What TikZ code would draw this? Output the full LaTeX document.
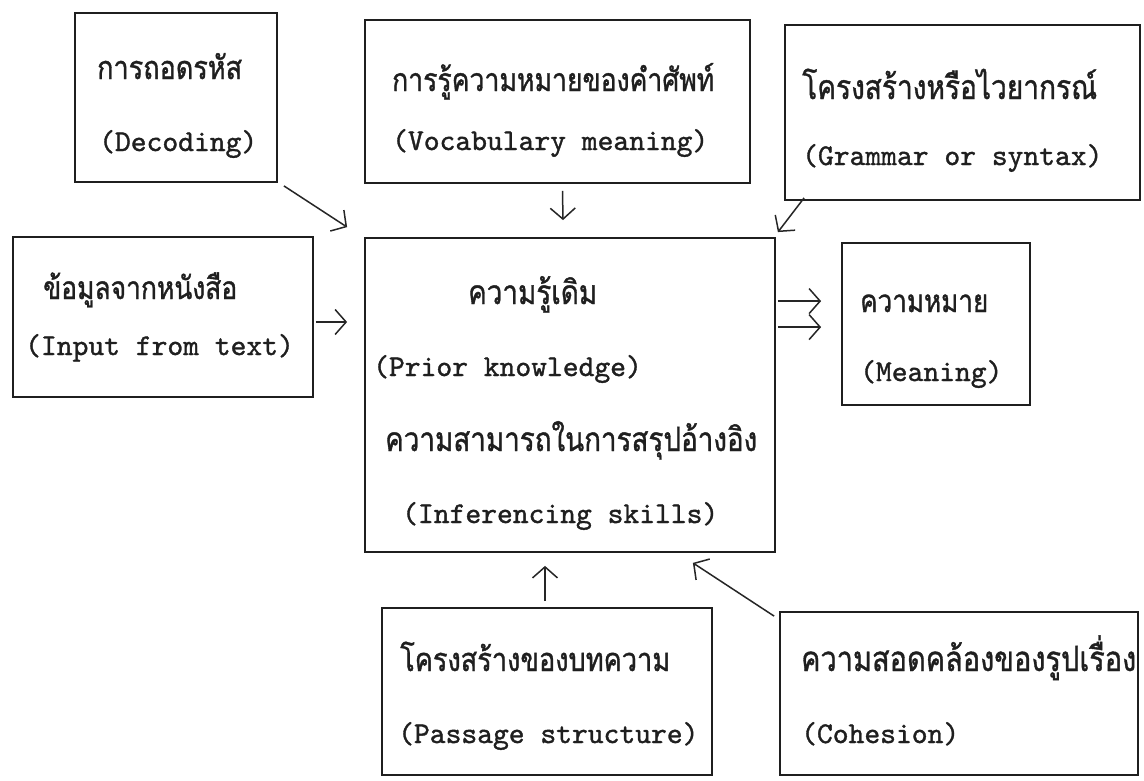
\documentclass[tikz,border=0pt]{standalone}
\usepackage{fontspec}
\newfontfamily\engfont[Extension=.otf,FakeBold=1.2]{lmmono10-regular}
\newfontfamily\thaifont[Script=Thai,FakeBold=1.2]{Loma}
\usetikzlibrary{arrows.meta,calc}
\newcommand{\eng}[1]{{\fontsize{30.1}{34}\selectfont\engfont #1}}
\newcommand{\thx}[2]{\resizebox{#1pt}{!}{\scalebox{1}[1.2]{\fontsize{24}{28}\selectfont\thaifont #2}}}
\tikzset{
  box/.style={draw=black!88, line width=1.8pt, inner sep=0pt},
  tlbl/.style={anchor=base west, inner sep=0pt, text=black!88},
  arr/.style={draw=black!85, line width=1.5pt, -{Straight Barb[length=11pt,width=25pt]}},
}
\begin{document}
\begin{tikzpicture}[x=1pt,y=-1pt]
\useasboundingbox[fill=white] (0,0) rectangle (1144,780);
% boxes
\node[box, minimum width=202pt, minimum height=169pt] (dec) at (176,97.5) {};
\node[box, minimum width=385pt, minimum height=163pt] (voc) at (557.5,101.5) {};
\node[box, minimum width=355pt, minimum height=175pt] (gra) at (962.5,112.5) {};
\node[box, minimum width=300pt, minimum height=160pt] (inp) at (163,317) {};
\node[box, minimum width=410pt, minimum height=314pt] (cen) at (570,395) {};
\node[box, minimum width=188pt, minimum height=162pt] (mea) at (936,324) {};
\node[box, minimum width=330pt, minimum height=167pt] (pas) at (547,691.5) {};
\node[box, minimum width=358pt, minimum height=163pt] (coh) at (959,693.5) {};
% texts
\node[tlbl] (decT) at (97,79) {\thx{145}{การถอดรหัส}};
\node[tlbl] (decE) at (99,151) {\eng{(Decoding)}};
\node[tlbl] (vocT) at (392,91) {\thx{322}{การรู้ความหมายของคำศัพท์}};
\node[tlbl] (vocE) at (392,150) {\eng{(Vocabulary meaning)}};
\node[tlbl] (graT) at (802,99) {\thx{295}{โครงสร้างหรือไวยากรณ์}};
\node[tlbl] (graE) at (802,165) {\eng{(Grammar or syntax)}};
\node[tlbl] (inpT) at (43,299) {\thx{194}{ข้อมูลจากหนังสือ}};
\node[tlbl] (inpE) at (25,355) {\eng{(Input from text)}};
\node[tlbl] (cenT1) at (468,304) {\thx{129}{ความรู้เดิม}};
\node[tlbl] (cenE1) at (373,376) {\eng{(Prior knowledge)}};
\node[tlbl] (cenT2) at (385,451) {\thx{372}{ความสามารถในการสรุปอ้างอิง}};
\node[tlbl] (cenE2) at (402,523) {\eng{(Inferencing skills)}};
\node[tlbl] (meaT) at (860,312) {\thx{128}{ความหมาย}};
\node[tlbl] (meaE) at (860,381) {\eng{(Meaning)}};
\node[tlbl] (pasT) at (400,671) {\thx{270}{โครงสร้างของบทความ}};
\node[tlbl] (pasE) at (398,743) {\eng{(Passage structure)}};
\node[tlbl] (cohT) at (801,671) {\thx{335}{ความสอดคล้องของรูปเรื่อง}};
\node[tlbl] (cohE) at (801,743) {\eng{(Cohesion)}};
% connectors
\draw[arr] ($(dec.south east)+(6,3)$) -- ($(cen.north west)+(-17,-10)$);
\draw[arr] ($(voc.south)+(5,7)$) -- ($(cen.north)+(-7,-17)$);
\draw[arr] ($(gra.south west)+(20,-3)$) -- ($(cen.north east)+(2,-5)$);
\draw[arr] ($(inp.east)+(2,5)$) -- ($(cen.west)+(-17,-73)$);
\draw[arr] ($(cen.north east)+(2,64)$) -- ($(mea.north west)+(-20,59)$);
\draw[arr] ($(cen.north east)+(2,90)$) -- ($(mea.north west)+(-20,85)$);
\draw[arr] ($(pas.north)+(-2,-6)$) -- ($(cen.south)+(-25,13)$);
\draw[arr] ($(coh.north west)+(-5,5)$) -- ($(cen.south east)+(-83,10)$);
\end{tikzpicture}
\end{document}
